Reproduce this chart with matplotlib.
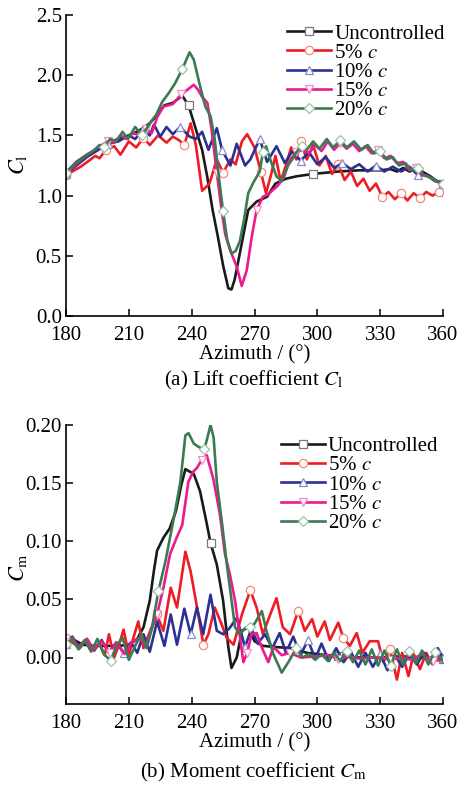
import matplotlib
matplotlib.use("Agg")
import matplotlib.pyplot as plt
from matplotlib.lines import Line2D
import numpy as np

plt.rcParams['font.family'] = ['Liberation Serif', 'DejaVu Serif']
plt.rcParams['mathtext.fontset'] = 'stix'

labels = ['Uncontrolled', '5% $c$', '10% $c$', '15% $c$', '20% $c$']
colors = ['#1a1a1a', '#ee1c24', '#2b3194', '#ec1a8c', '#3b7a52']
mcolors = ['#7a7a7a', '#f58a78', '#8a8cc8', '#f28cc4', '#9cc4aa']
markers = ['s', 'o', '^', 'v', 'D']

# ---- (a) lift coefficient ----
cl_unc_x = [180, 185, 190, 195, 200, 205, 210, 215, 220, 224, 227, 231, 235.5, 238.5, 241.5, 245, 247.5,
            250, 252.5, 255, 257.5, 259, 260.5, 264, 267, 271, 276, 280, 285, 290, 298, 310, 320, 330,
            335, 338, 341, 344, 347, 350, 354, 357, 360]
cl_unc_y = [1.19, 1.28, 1.34, 1.39, 1.44, 1.47, 1.50, 1.54, 1.60, 1.68, 1.75, 1.77, 1.83, 1.75, 1.58, 1.38, 1.15,
            0.88, 0.66, 0.42, 0.23, 0.22, 0.30, 0.61, 0.88, 0.95, 0.99, 1.10, 1.14, 1.16, 1.18, 1.20, 1.21, 1.21,
            1.22, 1.20, 1.23, 1.20, 1.22, 1.20, 1.16, 1.12, 1.10]

cl_5_x = [180, 183, 187, 191, 194, 196, 199, 203, 206, 210, 213.5, 217, 220, 224, 228, 231, 234, 236.5,
          239.5, 242, 245, 248.5, 252, 255, 258.5, 261, 264, 266.5, 270, 273, 275.5, 278, 280, 282.5, 285,
          287.5, 290, 292, 295, 298, 301, 304, 307, 310, 313, 316, 319, 322, 325, 328, 331, 334, 337, 340,
          343, 346, 349, 352, 355, 358, 360]
cl_5_y = [1.17, 1.20, 1.24, 1.29, 1.33, 1.31, 1.38, 1.41, 1.34, 1.45, 1.40, 1.48, 1.42, 1.50, 1.44, 1.49, 1.46, 1.42,
          1.60, 1.42, 1.04, 1.10, 1.30, 1.19, 1.30, 1.26, 1.45, 1.51, 1.40, 1.20, 1.02, 1.18, 1.33, 1.12, 1.25,
          1.40, 1.30, 1.45, 1.30, 1.42, 1.25, 1.33, 1.18, 1.26, 1.13, 1.20, 1.08, 1.14, 1.04, 1.10, 0.99, 1.03, 0.97, 1.02,
          0.96, 1.02, 0.98, 1.03, 1.00, 1.03, 1.00]

cl_10_x = [180, 190, 200, 205, 210, 213, 217, 220, 222, 225, 228, 231, 234.5, 239, 242, 245, 248, 252,
           254.5, 256, 258.5, 261.5, 265.5, 268, 272.5, 276, 280.5, 284.5, 288, 292, 296, 300, 304, 308,
           312, 316, 320, 324, 328, 332, 336, 340, 344, 348, 352, 356, 360]
cl_10_y = [1.18, 1.32, 1.43, 1.45, 1.50, 1.47, 1.55, 1.50, 1.59, 1.49, 1.57, 1.51, 1.57, 1.49, 1.47, 1.53, 1.38, 1.56,
           1.38, 1.33, 1.25, 1.43, 1.25, 1.30, 1.47, 1.28, 1.41, 1.27, 1.37, 1.29, 1.36, 1.26, 1.32, 1.23,
           1.27, 1.22, 1.26, 1.20, 1.25, 1.20, 1.24, 1.20, 1.24, 1.17, 1.17, 1.13, 1.10]

cl_15_x = [180, 184, 188, 192, 196, 200, 203, 206, 209, 212, 215, 218, 221, 223.5, 226.5, 231, 235, 238, 241,
           243, 245, 247.5, 249.5, 252, 254.3, 256, 258.3, 261.5, 263.9, 266.3, 268.7, 271, 274, 276.5, 279,
           281, 284, 287, 290, 293, 296, 299, 302, 305, 308, 311, 314, 317, 320, 323, 326, 329, 332, 335, 338,
           341, 344, 347, 350, 353, 356, 360]
cl_15_y = [1.18, 1.25, 1.31, 1.36, 1.41, 1.45, 1.44, 1.50, 1.47, 1.52, 1.50, 1.55, 1.52, 1.65, 1.74, 1.76, 1.84, 1.88, 1.92,
           1.88, 1.82, 1.77, 1.55, 1.19, 0.88, 0.68, 0.55, 0.41, 0.25, 0.38, 0.66, 0.88, 0.99, 1.01, 1.05,
           1.08, 1.15, 1.30, 1.36, 1.38, 1.35, 1.42, 1.37, 1.45, 1.38, 1.44, 1.39, 1.43, 1.37, 1.41, 1.35, 1.38, 1.31, 1.33, 1.27,
           1.28, 1.21, 1.23, 1.17, 1.16, 1.12, 1.10]

cl_20_x = [180, 184, 187, 190, 193, 196, 198, 201, 204, 207, 209.5, 213, 216.5, 220, 223, 226, 229, 232, 235.5,
           239, 241, 244, 246.5, 249, 251, 253, 255, 257, 259, 261, 263, 265, 267, 269.5, 272.5, 274, 275.5,
           277.5, 280.5, 283, 285.5, 288, 290, 292.5, 295, 298, 301, 304.5, 307.5, 311, 314, 317.5, 321, 324,
           327, 330, 333, 336, 339, 342, 345, 348, 351, 354, 357, 360]
cl_20_y = [1.19, 1.26, 1.30, 1.34, 1.37, 1.42, 1.40, 1.47, 1.45, 1.53, 1.47, 1.57, 1.50, 1.60, 1.67, 1.78, 1.85, 1.93, 2.05,
           2.19, 2.13, 1.91, 1.74, 1.66, 1.47, 1.15, 0.87, 0.63, 0.52, 0.54, 0.62, 0.80, 1.02, 1.11, 1.20, 1.36, 1.41,
           1.30, 1.16, 1.12, 1.24, 1.30, 1.36, 1.41, 1.38, 1.45, 1.39, 1.47, 1.40, 1.46, 1.40, 1.45, 1.38, 1.42,
           1.35, 1.37, 1.30, 1.32, 1.25, 1.27, 1.21, 1.23, 1.17, 1.15, 1.12, 1.10]

cl_marks = [[180, 238.5, 298, 360],
            [180, 199, 217, 236.5, 255, 273, 292, 310, 331, 340, 349, 358],
            [180, 199, 217, 234.5, 254.5, 272.5, 292, 312, 328, 348, 360],
            [180, 200, 218, 235, 252, 271, 290, 311, 329, 347],
            [180, 198, 216.5, 235.5, 255, 274, 292.5, 311, 330, 348, 360]]

# ---- (b) moment coefficient ----
cm_unc_x = [180, 184, 188, 193, 200, 205, 210, 214, 217, 220, 222, 223.5, 226.5, 229.5, 232.5, 235, 237, 239,
            241, 244, 247, 249, 252, 255, 257.5, 259, 261.5, 264, 267, 270, 274, 280, 288, 295, 300, 310,
            320, 330, 340, 350, 360]
cm_unc_y = [0.013, 0.015, 0.011, 0.010, 0.010, 0.010, 0.011, 0.016, 0.026, 0.049, 0.075, 0.092, 0.103, 0.111, 0.126,
            0.148, 0.162, 0.160, 0.158, 0.143, 0.117, 0.0986, 0.080, 0.049, 0.009, -0.009, 0.000, 0.023, 0.026,
            0.014, 0.010, 0.009, 0.008, 0.004, 0.003, 0.001, 0.000, 0.000, 0.001, 0.000, -0.001]

cm_5_x = [180, 183, 186, 189, 192, 196, 198.5, 200.5, 203, 205.5, 207.5, 210, 212, 214.5, 217, 220, 223.3,
          226.5, 230, 233, 237, 239.5, 242, 245.6, 248, 251, 254, 256.7, 260, 264, 268, 271, 274, 277.5,
          280.5, 283.5, 287, 290.9, 294, 297.5, 300, 303.5, 306, 310, 312.4, 315.5, 318.8, 321.5, 325, 329,
          331.5, 334.7, 338, 340.5, 343.5, 346, 349, 352, 355, 357.5, 360]
cm_5_y = [0.017, 0.013, 0.009, 0.015, 0.006, 0.012, 0.002, 0.020, 0.000, 0.012, 0.024, 0.002, 0.016, 0.031, 0.008,
          0.022, 0.037, 0.023, 0.060, 0.043, 0.091, 0.074, 0.049, 0.011, 0.020, 0.043, 0.030, 0.017, 0.011,
          0.037, 0.058, 0.043, 0.020, 0.037, 0.051, 0.026, 0.020, 0.040, 0.023, 0.033, 0.018, 0.031, 0.015,
          0.030, 0.017, 0.010, 0.021, 0.004, 0.014, 0.014, -0.004, 0.007, -0.019, 0.004, -0.016, 0.003,
          -0.010, 0.004, -0.006, 0.002, -0.003]

cm_10_x = [180, 183, 186.5, 190, 193.5, 197, 200.5, 204, 207.5, 211, 214, 217, 220, 223.5, 227, 230, 233,
           236.5, 239.5, 242.5, 245.5, 249, 252, 255, 258, 261.5, 265.5, 268.5, 271.5, 275, 278.5, 282,
           285, 288.5, 292, 295.5, 299, 302, 305.5, 309, 312.5, 316, 319.5, 323, 326.5, 330, 333.5, 337,
           340.5, 344, 347.5, 351, 354.5, 357.5, 360]
cm_10_y = [0.012, 0.018, 0.008, 0.016, 0.006, 0.015, 0.004, 0.013, 0.004, 0.013, 0.004, 0.020, 0.005, 0.031,
           0.010, 0.037, 0.011, 0.042, 0.020, 0.043, 0.020, 0.054, 0.023, 0.020, 0.025, 0.034, 0.009, 0.025,
           0.012, 0.020, 0.008, 0.021, 0.004, 0.018, 0.002, 0.015, -0.001, 0.012, -0.003, 0.008, -0.004, 0.005,
           -0.008, 0.004, -0.008, 0.003, -0.011, 0.002, -0.008, 0.003, -0.006, 0.004, -0.004, 0.008, 0.000]

cm_15_x = [180, 183, 186, 190, 193, 197, 201, 204, 208, 211, 215, 218, 221, 223.5, 226.5, 229.7, 232.8, 235.5,
           238.4, 240.8, 242.5, 244.8, 247.2, 250.3, 253.5, 255.9, 258.3, 260.7, 263.1, 264.7, 266.5, 268.6,
           271, 273.4, 276.6, 279, 283, 287, 292, 300, 305, 310, 315, 320, 325, 330, 335, 340, 345, 350,
           355, 360]
cm_15_y = [0.013, 0.017, 0.008, 0.016, 0.006, 0.014, 0.004, 0.013, 0.003, 0.012, 0.017, 0.010, 0.025, 0.037, 0.060,
           0.089, 0.103, 0.114, 0.151, 0.160, 0.163, 0.170, 0.174, 0.154, 0.123, 0.089, 0.071, 0.049, 0.017,
           -0.004, 0.004, 0.020, 0.021, 0.009, -0.004, 0.009, 0.002, 0.004, 0.000, 0.001, 0.002, -0.001, 0.001,
           -0.001, 0.000, 0.000, -0.002, 0.000, -0.002, 0.003, -0.003, -0.002]

cm_20_x = [180, 183, 186, 189, 192, 195, 198, 201.5, 204, 207, 210, 213, 216, 218.5, 221, 224.1, 227.5, 231.5,
           234.6, 237, 238.5, 241, 243.5, 246, 247.5, 249, 250.5, 252, 254.6, 257, 258.7, 260.7, 263, 266,
           268, 270, 273.5, 275.7, 279, 283, 286.5, 290, 293, 296, 299, 302, 305, 308, 311, 314, 317, 320,
           323, 326, 329, 332, 335, 338, 341, 344, 347, 350, 353, 356, 360]
cm_20_y = [0.012, 0.016, 0.007, 0.015, 0.005, 0.016, 0.003, -0.003, 0.010, 0.017, -0.002, 0.010, 0.020, 0.008,
           0.025, 0.057, 0.083, 0.120, 0.151, 0.191, 0.193, 0.184, 0.181, 0.179, 0.189, 0.200, 0.189, 0.151,
           0.114, 0.077, 0.054, 0.026, 0.020, 0.026, 0.026, 0.029, 0.040, 0.023, 0.003, -0.013, -0.003, 0.008,
           0.000, 0.003, -0.002, 0.003, -0.003, 0.004, -0.003, 0.006, -0.004, 0.006, -0.006, 0.007, -0.007,
           0.006, -0.007, 0.007, -0.006, 0.006, -0.005, 0.006, -0.006, 0.005, -0.003]

cm_marks = [[180, 249, 310, 360],
            [180, 223.3, 245.6, 268, 290.9, 312.4, 334.7],
            [180, 207.5, 239.5, 265.5, 296, 330, 360],
            [180, 201, 223.5, 244.8, 266.5, 288, 310, 335, 355],
            [180, 201.5, 224.1, 246, 268, 290, 314, 335, 344, 356]]

fig = plt.figure(figsize=(4.61, 7.89), dpi=100)
ax1 = fig.add_axes([66 / 461, 1 - 316 / 789, 377 / 461, 301 / 789])
ax2 = fig.add_axes([66 / 461, 1 - 704 / 789, 377 / 461, 279 / 789])

cl_data = [(cl_unc_x, cl_unc_y), (cl_5_x, cl_5_y), (cl_10_x, cl_10_y), (cl_15_x, cl_15_y), (cl_20_x, cl_20_y)]
cm_data = [(cm_unc_x, cm_unc_y), (cm_5_x, cm_5_y), (cm_10_x, cm_10_y), (cm_15_x, cm_15_y), (cm_20_x, cm_20_y)]
fs = 15


def draw(ax, data, marks):
    for i, (x, y) in enumerate(data):
        x = np.array(x)
        idx = sorted(set(int(np.argmin(np.abs(x - a))) for a in marks[i]))
        ax.plot(x, y, color=colors[i], lw=1.9, marker=markers[i], markevery=idx,
                ms=6 if markers[i] != 'D' else 5.5, mfc='white', mec=mcolors[i], mew=0.9, zorder=2 + i * 0.1)
    for s in ['top', 'right']:
        ax.spines[s].set_visible(False)
    for s in ['left', 'bottom']:
        ax.spines[s].set_linewidth(1.2)
    ax.set_xlim(180, 360)
    ax.set_xticks(np.arange(180, 361, 30))
    ax.tick_params(direction='in', length=5, width=1.1, labelsize=fs, pad=3)
    ax.tick_params(axis='x', pad=7)
    ax.set_xlabel('Azimuth / (°)', fontsize=fs, labelpad=0)
    handles = [Line2D([], [], color=colors[i], lw=1.9, marker=markers[i], ms=6 if markers[i] != 'D' else 5.5,
                      mfc='white', mec=mcolors[i], mew=0.9) for i in range(5)]
    return handles


h = draw(ax1, cl_data, cl_marks)
ax1.set_ylim(0, 2.5)
ax1.set_yticks(np.arange(0, 2.51, 0.5))
ax1.set_yticklabels(['%.1f' % v for v in np.arange(0, 2.51, 0.5)])
ax1.legend(h, labels, loc='upper left', bbox_to_anchor=(0.587, 0.97), frameon=False, fontsize=fs,
           handlelength=2.1, handletextpad=0.15, labelspacing=-0.02, borderpad=0, borderaxespad=0)

h = draw(ax2, cm_data, cm_marks)
ax2.set_ylim(-0.04, 0.2)
ax2.set_yticks(np.arange(0, 0.201, 0.05))
ax2.set_yticklabels(['%.2f' % v for v in np.arange(0, 0.201, 0.05)])
ax2.legend(h, labels, loc='upper left', bbox_to_anchor=(0.57, 0.958), frameon=False, fontsize=fs,
           handlelength=2.1, handletextpad=0.15, labelspacing=-0.02, borderpad=0, borderaxespad=0)

fig.text(18 / 461, 1 - 165 / 789, r'$C_{\mathrm{l}}$', rotation=90, fontsize=fs + 1, ha='center', va='center')
fig.text(18 / 461, 1 - 568 / 789, r'$C_{\mathrm{m}}$', rotation=90, fontsize=fs + 1, ha='center', va='center')
fig.text(254 / 461, 1 - 380 / 789, r'(a) Lift coefficient $C_{\mathrm{l}}$', fontsize=fs, ha='center', va='center')
fig.text(254 / 461, 1 - 772 / 789, r'(b) Moment coefficient $C_{\mathrm{m}}$', fontsize=fs, ha='center', va='center')

fig.savefig('out.png', dpi=100)
